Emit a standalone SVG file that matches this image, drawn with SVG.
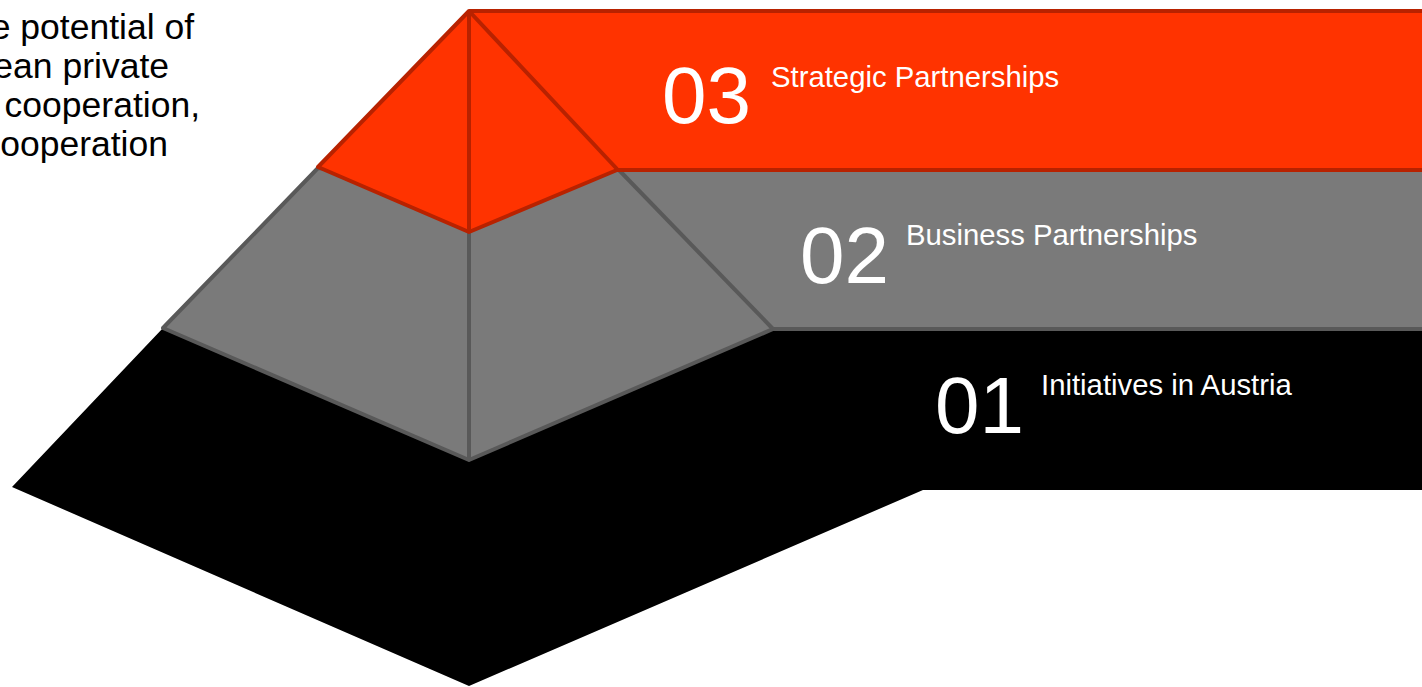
<svg xmlns="http://www.w3.org/2000/svg" width="1422" height="687" viewBox="0 0 1422 687">
  <style>
    .side { font-family: "Liberation Sans", Arial, sans-serif; font-size: 35.5px; fill: #000000; text-anchor: end; }
    .num { font-family: "Liberation Sans", Arial, sans-serif; font-size: 80px; fill: #ffffff; }
    .lbl { font-family: "Liberation Sans", Arial, sans-serif; font-size: 29.3px; fill: #ffffff; }
    .red { fill: #ff3300; stroke: #b82200; stroke-width: 4; stroke-linejoin: round; }
    .grey { fill: #7a7a7a; stroke: #595959; stroke-width: 4; stroke-linejoin: round; }
    .redline { fill: none; stroke: #b82200; stroke-width: 4; }
    .greyline { fill: none; stroke: #595959; stroke-width: 4; }
  </style>
  <rect width="1422" height="687" fill="#ffffff"/>
  <g id="intro-text">
    <text class="side" x="194" y="39">e potential of</text>
    <text class="side" x="169" y="78">ean private</text>
    <text class="side" x="200" y="117">cooperation,</text>
    <text class="side" x="168" y="156">ooperation</text>
  </g>
  <g id="level-01">
    <polygon points="12,487 163,328 1430,328 1430,490 923,490 469,686" fill="#000000"/>
    <text class="num" x="935" y="433">01</text>
    <text class="lbl" x="1041" y="395">Initiatives in Austria</text>
  </g>
  <g id="level-02">
    <polygon class="grey" points="318,168 620,170 1430,170 1430,329 773,329 469,460 163,328"/>
    <g id="connectors-02">
      <line class="greyline" x1="617" y1="168" x2="773" y2="329"/>
      <line class="greyline" x1="469" y1="232" x2="469" y2="460"/>
    </g>
    <text class="num" x="800" y="283">02</text>
    <text class="lbl" x="906" y="245">Business Partnerships</text>
  </g>
  <g id="level-03">
    <polygon class="red" points="469,11 1430,11 1430,170 617,170 469,232 318,167"/>
    <g id="connectors-03">
      <line class="redline" x1="469" y1="11" x2="617" y2="169"/>
      <line class="redline" x1="469" y1="11" x2="469" y2="232"/>
    </g>
    <text class="num" x="662" y="123">03</text>
    <text class="lbl" x="771" y="87">Strategic Partnerships</text>
  </g>
</svg>
